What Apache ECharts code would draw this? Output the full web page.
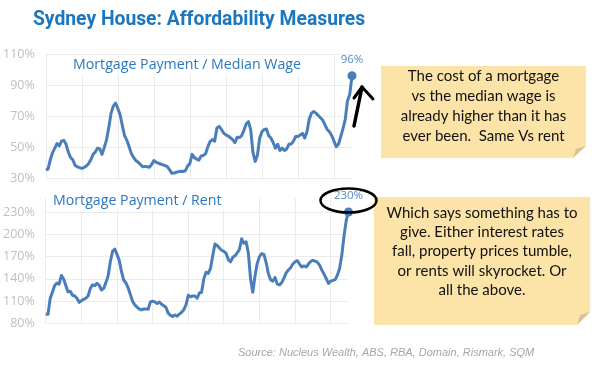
<!DOCTYPE html>
<html><head><meta charset="utf-8">
<script src="https://cdn.jsdelivr.net/npm/echarts@6/dist/echarts.min.js"></script>
<style>html,body{margin:0;padding:0;background:#fff}#c{width:592px;height:368px}</style>
</head><body><div id="c"></div>
<script>
// Quarterly observations, Q3 1988 .. Q3 2022
const startYear = 1988, startQuarter = 3, pointCount = 137;
const quarters = [];
for (let i = 0; i < pointCount; i++) {
  const q = startQuarter - 1 + i;
  quarters.push((startYear + Math.floor(q / 4)) + ' Q' + (q % 4 + 1));
}

// Mortgage payment / median wage (%)
const wageRatio = [35.8,36,42,46.5,49.5,52.5,51,54,54.5,52,
  47,43.5,42,38.5,37.5,37,36.5,37,38,39.5,
  42,45.5,47,49.5,49,45.5,50,55,63,72,
  76.5,78.5,75,71,64,57.5,54.5,50.5,46,43.5,
  41.5,40.5,39,37.5,37.8,37.5,37.2,39,41.5,40.5,
  39.8,39.3,38.8,38.3,37.6,35.5,33.3,33.5,34,34.4,
  34.7,34.5,35,38,39.7,45.5,43.4,42.5,41.8,44.5,
  44.8,46,50.5,53.8,55,54,62.5,63.5,61.5,59.2,
  58,57.3,56.2,55,53,56.5,56.3,57.5,61,65,
  66.5,61.4,47,41,45,56,60,61.5,61.8,57.5,
  56,53,49.5,52,48,49.5,48,49,52,52.2,
  54,57,57,58,59,56,60,68,72,73,
  72,70.5,69,67.5,64.5,61.5,60,57.5,54,50.5,
  52,57,62,68,80,84,96];

// Mortgage payment / rent (%)
const rentRatio = [92.5,92.5,114,122.5,131,134.5,133,144.5,140,131,
  122.5,123.5,118,117,114,108.5,110.5,112.5,114,117,
  127,132,131,134,131.5,125,127,135,144,163,
  177,180,173,165,150,138.5,134.5,128,119,110,
  105,102,99.5,98.3,99.5,99.5,99.2,109,110,109,
  107,109,106,104,101.5,94,91,89.5,91.5,89.8,
  92.5,95,98.5,105,118,116,117,117,114,121,
  122,140,149,147.5,154,171,187,185,181.5,178.5,
  177,174.5,166,163,169,171,175,179.5,194,188,
  190,175,140,122,144,161,170,174,173,162,
  147,139,137,142,133,132,135,141,148,152,
  155,160,163,164.5,160,156,157.5,156,160,163.5,
  165,164,162.5,158.5,152,146.5,140.5,134,137,138,
  139,145,154,172,198,219,230];

const wageAxis = {min: 30, max: 110, interval: 20};
const rentAxis = {min: 80, max: 230, interval: 30};

const titleText = 'Sydney House: Affordability Measures';
const topLabel = 'Mortgage Payment / Median Wage';
const bottomLabel = 'Mortgage Payment / Rent';
const sourceText = 'Source: Nucleus Wealth, ABS, RBA, Domain, Rismark, SQM';
const note1 = ['The cost of a mortgage', 'vs the median wage is', 'already higher than it has', 'ever been.  Same Vs rent'];
const note2 = ['Which says something has to', 'give. Either interest rates', 'fall, property prices tumble,', 'or rents will skyrocket. Or', 'all the above.'];

const LINE = '#4A7EBB';
const GRID = '#ebebeb';
const AXIS_TXT = '#bfbfbf';
const BLUE_TXT = '#2A78C2';
const NOTE_BG = '#FCE3A7';
const NOTE_FOLD = '#D8C297';
const noteFont = '15px Lato, "DejaVu Sans", sans-serif';

function decorateLast(arr) {
  return arr.map((v, i) => i === arr.length - 1 ? {
    value: v, symbol: 'circle', symbolSize: 9,
    label: {show: true, position: 'top', distance: 6, formatter: '{c}%', color: '#5A8BC6',
      fontSize: 11.5, fontFamily: '"Open Sans", sans-serif'}
  } : v);
}

function xAx(grid, split) {
  return {gridIndex: grid, type: 'category', data: quarters, boundaryGap: false,
    axisLine: {show: false}, axisTick: {show: false, interval: 15},
    axisLabel: {show: false, interval: 15},
    splitLine: {show: split, interval: 15, lineStyle: {color: GRID, width: 1}}};
}
function yAx(grid, ax) {
  return {gridIndex: grid, type: 'value', min: ax.min, max: ax.max, interval: ax.interval,
    axisLine: {show: false}, axisTick: {show: false},
    axisLabel: {formatter: '{value}%', color: AXIS_TXT, fontSize: 12.5, margin: 11,
      fontFamily: '"Open Sans", sans-serif'},
    splitLine: {lineStyle: {color: GRID, width: 1}}};
}

const graphics = [
  {type: 'text', x: 33, y: 20, z: 20, style: {text: titleText, font: 'bold 19.3px Roboto, sans-serif', fill: '#1B76C0', textAlign: 'left', textVerticalAlign: 'middle'}},
  {type: 'rect', z: 19, shape: {x: 72, y: 57, width: 230, height: 17}, style: {fill: '#fff'}},
  {type: 'text', x: 73, y: 65, z: 20, style: {text: topLabel, font: '14.2px "Open Sans", sans-serif', fill: BLUE_TXT, textAlign: 'left', textVerticalAlign: 'middle'}},
  {type: 'rect', z: 19, shape: {x: 52, y: 193, width: 172, height: 17}, style: {fill: '#fff'}},
  {type: 'text', x: 53, y: 201, z: 20, style: {text: bottomLabel, font: '14.2px "Open Sans", sans-serif', fill: BLUE_TXT, textAlign: 'left', textVerticalAlign: 'middle'}},
  {type: 'text', x: 238, y: 353, z: 20, style: {text: sourceText, font: 'italic 11px "Liberation Sans", Arial, sans-serif', fill: '#a6a6a6', textAlign: 'left', textVerticalAlign: 'middle'}},
  // note 1
  {type: 'polygon', z: 20, shape: {points: [[381,66],[586,66],[586,146],[573,158],[381,158]]}, style: {fill: NOTE_BG}},
  {type: 'polygon', z: 20, shape: {points: [[586,146],[573,158],[576,149]]}, style: {fill: NOTE_FOLD}},
  // note 2
  {type: 'polygon', z: 20, shape: {points: [[374,197],[590,197],[590,312],[577,325],[374,325]]}, style: {fill: NOTE_BG}},
  {type: 'polygon', z: 20, shape: {points: [[590,312],[577,325],[580,315]]}, style: {fill: NOTE_FOLD}},
  // arrow
  {type: 'polyline', z: 50, shape: {points: [[354,126],[362,87]]}, style: {stroke: '#000', lineWidth: 3.5, lineCap: 'round'}},
  {type: 'polyline', z: 50, shape: {points: [[354,98],[362,87],[373,99]]}, style: {stroke: '#000', lineWidth: 3, lineCap: 'round', lineJoin: 'round', fill: null}},
  // ellipse
  {type: 'ellipse', z: 50, shape: {cx: 348.5, cy: 200.5, rx: 28, ry: 12}, style: {fill: null, stroke: '#000', lineWidth: 2.5}}
];
note1.forEach((t, i) => graphics.push({type: 'text', z: 30, x: 483.5, y: 76 + i * 20, style: {text: t, font: noteFont, fill: '#111', textAlign: 'center', textVerticalAlign: 'middle'}}));
note2.forEach((t, i) => graphics.push({type: 'text', z: 30, x: 482, y: 213 + i * 19.3, style: {text: t, font: noteFont, fill: '#111', textAlign: 'center', textVerticalAlign: 'middle'}}));

const chart = echarts.init(document.getElementById('c'), null, {renderer: 'canvas'});
chart.setOption({
  animation: false,
  backgroundColor: '#fff',
  grid: [
    {left: 45.5, right: 240, top: 54, height: 124.5},
    {left: 45.5, right: 243.5, top: 212, height: 111.5},
    {left: 45.5, right: 243.5, top: 198, height: 125.5}
  ],
  xAxis: [xAx(0, true), xAx(1, false), xAx(2, true)],
  yAxis: [yAx(0, wageAxis), yAx(1, rentAxis), {gridIndex: 2, type: 'value', min: 0, max: 1, show: false}],
  series: [
    {type: 'line', xAxisIndex: 0, yAxisIndex: 0, data: decorateLast(wageRatio), symbol: 'none', showSymbol: true, showAllSymbol: true,
      smooth: false, sampling: null, lineStyle: {color: LINE, width: 3, join: 'round'}, itemStyle: {color: LINE}, silent: true},
    {type: 'line', xAxisIndex: 1, yAxisIndex: 1, data: decorateLast(rentRatio), symbol: 'none', showSymbol: true, showAllSymbol: true,
      smooth: false, sampling: null, lineStyle: {color: LINE, width: 3, join: 'round'}, itemStyle: {color: LINE}, silent: true}
  ],
  graphic: graphics
});
</script>
</body></html>
